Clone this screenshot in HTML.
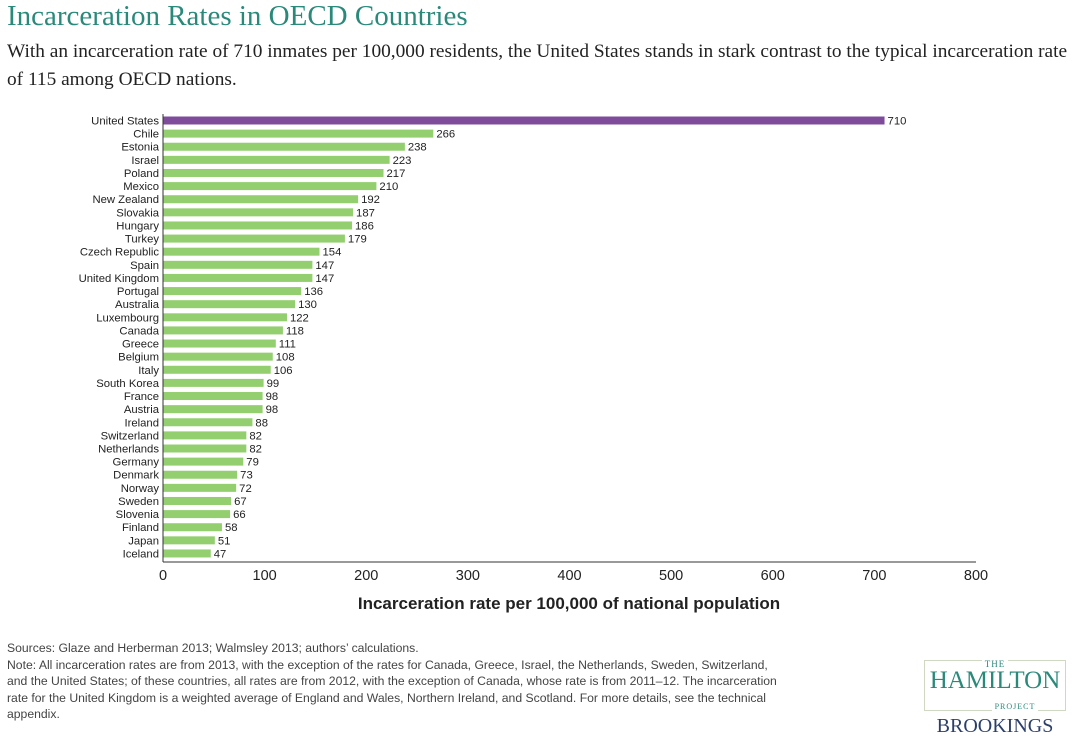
<!DOCTYPE html>
<html><head><meta charset="utf-8"><style>
body{margin:0;width:1080px;height:737px;background:#fff;overflow:hidden;font-family:"Liberation Sans",sans-serif;}
#title{position:absolute;left:7px;top:0px;font-family:"Liberation Serif",serif;font-size:29px;color:#2a8a7a;}
#sub{position:absolute;left:7px;top:38px;width:1072px;font-family:"Liberation Serif",serif;font-size:19.35px;line-height:28px;color:#222;}
#notes{position:absolute;left:7px;top:640px;width:778px;font-size:12.2px;line-height:16.5px;color:#444;}
#logo{position:absolute;left:920px;top:652px;width:150px;text-align:center;font-family:"Liberation Serif",serif;}
</style></head><body>
<div id="title">Incarceration Rates in OECD Countries</div>
<div id="sub">With an incarceration rate of 710 inmates per 100,000 residents, the United States stands in stark contrast to the typical incarceration rate of 115 among OECD nations.</div>
<svg id="chart" width="1080" height="737" style="position:absolute;left:0;top:0"></svg>
<div id="notes">Sources: Glaze and Herberman 2013; Walmsley 2013; authors’ calculations.<br>Note: All incarceration rates are from 2013, with the exception of the rates for Canada, Greece, Israel, the Netherlands, Sweden, Switzerland, and the United States; of these countries, all rates are from 2012, with the exception of Canada, whose rate is from 2011–12. The incarceration rate for the United Kingdom is a weighted average of England and Wales, Northern Ireland, and Scotland. For more details, see the technical appendix.</div>
<div id="logo">
<div style="border:1px solid #cfd8c0;margin:0 4px;padding:0 0 1px;position:relative;top:8px;">
<div style="font-size:9px;color:#2a8a7a;position:relative;top:-7px;background:#fff;display:inline-block;padding:0 3px;letter-spacing:1px">THE</div>
<div style="font-size:25px;color:#2a8a7a;line-height:20px;margin-top:-8px">HAMILTON</div>
<div style="font-size:8px;color:#2a8a7a;letter-spacing:1px;position:relative;top:5px;background:#fff;display:inline-block;padding:0 3px;margin-left:40px">PROJECT</div>
</div>
<div style="font-size:20px;color:#2b3f6a;margin-top:12px">BROOKINGS</div>
</div>
<script>
const countries=["United States","Chile","Estonia","Israel","Poland","Mexico","New Zealand","Slovakia","Hungary","Turkey","Czech Republic","Spain","United Kingdom","Portugal","Australia","Luxembourg","Canada","Greece","Belgium","Italy","South Korea","France","Austria","Ireland","Switzerland","Netherlands","Germany","Denmark","Norway","Sweden","Slovenia","Finland","Japan","Iceland"];
const rates=[710,266,238,223,217,210,192,187,186,179,154,147,147,136,130,122,118,111,108,106,99,98,98,88,82,82,79,73,72,67,66,58,51,47];
const ticks=[0,100,200,300,400,500,600,700,800];
const NS="http://www.w3.org/2000/svg";
const svg=document.getElementById('chart');
const x0=163,x1=976,vmax=800,yTop=120.5,step=13.12,bh=8;
const X=v=>x0+(x1-x0)*v/vmax;
const Y=i=>yTop+i*step;
function mk(t,a){const e=document.createElementNS(NS,t);for(const k in a)e.setAttribute(k,a[k]);svg.appendChild(e);return e;}
countries.forEach((c,i)=>{
 const r=mk('rect',{x:x0,y:Y(i)-bh/2,width:X(rates[i])-x0,height:bh,fill:i===0?'#7f4c9c':'#93cf6f'});
 
 
 const l=mk('text',{x:x0-4,y:Y(i)+4,'text-anchor':'end','font-size':'11.3',fill:'#222'});l.textContent=c;
 
 
 const v=mk('text',{x:X(rates[i])+3,y:Y(i)+4,'font-size':'11.3',fill:'#222'});v.textContent=rates[i];
 
 
});
const ax=mk('line',{x1:x0,y1:562,x2:x1,y2:562,stroke:'#333','stroke-width':1});


const ay=mk('line',{x1:x0,y1:114,x2:x0,y2:562,stroke:'#333','stroke-width':1});


ticks.forEach(t=>{
 const tl=mk('text',{x:X(t),y:580,'text-anchor':'middle','font-size':'14.5',fill:'#222'});tl.textContent=t;
 
 
});
const at=mk('text',{x:569,y:609,'text-anchor':'middle','font-size':'17','font-weight':'bold',fill:'#222'});
at.textContent='Incarceration rate per 100,000 of national population';


</script>
</body></html>
